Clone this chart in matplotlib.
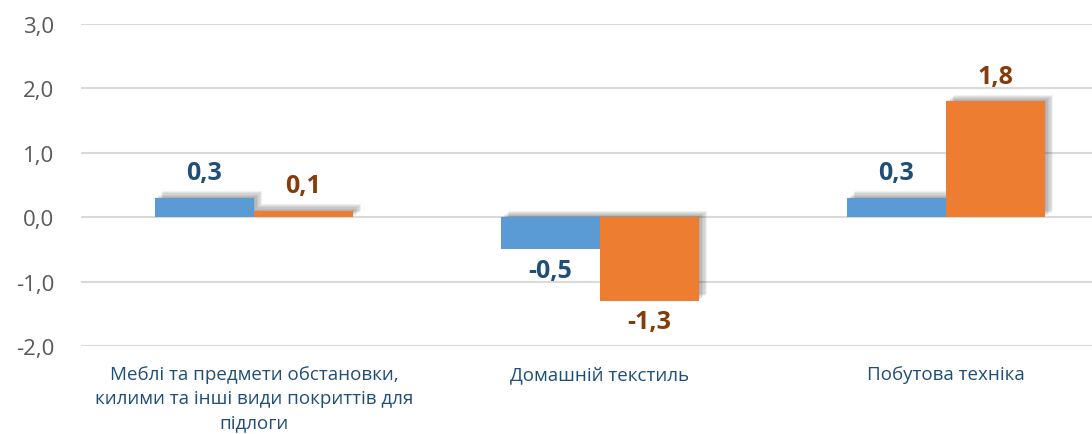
import matplotlib
matplotlib.use("Agg")
import matplotlib.pyplot as plt
import matplotlib.patheffects as pe
import numpy as np

### chart data
categories = ["Меблі та предмети обстановки,\nкилими та інші види покриттів для\nпідлоги",
              "Домашній текстиль",
              "Побутова техніка"]
series_blue = [0.3, -0.5, 0.3]
series_orange = [0.1, -1.3, 1.8]
yticks = [-2.0, -1.0, 0.0, 1.0, 2.0, 3.0]

plt.rcParams['font.family'] = ['Open Sans', 'DejaVu Sans']

fig = plt.figure(figsize=(10.92, 4.35), dpi=100)
# axes run past the right edge, like the cropped original
ax = fig.add_axes([81/1092, (435-347)/435, 1038/1092, (347-25)/435])

x = np.arange(len(categories))
w = 0.286

def shadow():
    # crude soft shadow: stacked offset copies
    return [pe.SimplePatchShadow(offset=(o, o * 0.8), shadow_rgbFace='black', alpha=0.06)
            for o in (1, 2, 3, 4, 5, 6)] + [pe.Normal()]

b1 = ax.bar(x - w/2, series_blue, w, color='#5B9BD5', zorder=3)
b2 = ax.bar(x + w/2, series_orange, w, color='#ED7D31', zorder=3)
for b in list(b1) + list(b2):
    b.set_path_effects(shadow())

for xs, vals, col in ((x - w/2, series_blue, '#1F4E79'), (x + w/2, series_orange, '#843C0C')):
    for xi, v in zip(xs, vals):
        lbl = ('%.1f' % v).replace('.', ',')
        if v >= 0:
            ax.annotate(lbl, (xi, v), xytext=(0, 9), textcoords='offset points',
                        ha='center', va='bottom', fontsize=18, fontweight='bold', color=col)
        else:
            ax.annotate(lbl, (xi, v), xytext=(0, -6), textcoords='offset points',
                        ha='center', va='top', fontsize=18, fontweight='bold', color=col)

ax.set_xlim(-0.5, 2.5)
ax.set_ylim(-2.0, 3.0)
ax.set_yticks(yticks)
ax.set_yticklabels([('%.1f' % t).replace('.', ',') for t in yticks], fontsize=16, color='#595959')
ax.set_xticks(x)
ax.set_xticklabels(categories, fontsize=13.5, color='#1F4E79', linespacing=1.42)
ax.tick_params(axis='both', length=0)
ax.tick_params(axis='y', pad=19)
ax.tick_params(axis='x', pad=14)
ax.grid(axis='y', color='#D9D9D9', linewidth=1.5, zorder=0)
for s in ax.spines.values():
    s.set_visible(False)

fig.savefig("out.png", dpi=100)
